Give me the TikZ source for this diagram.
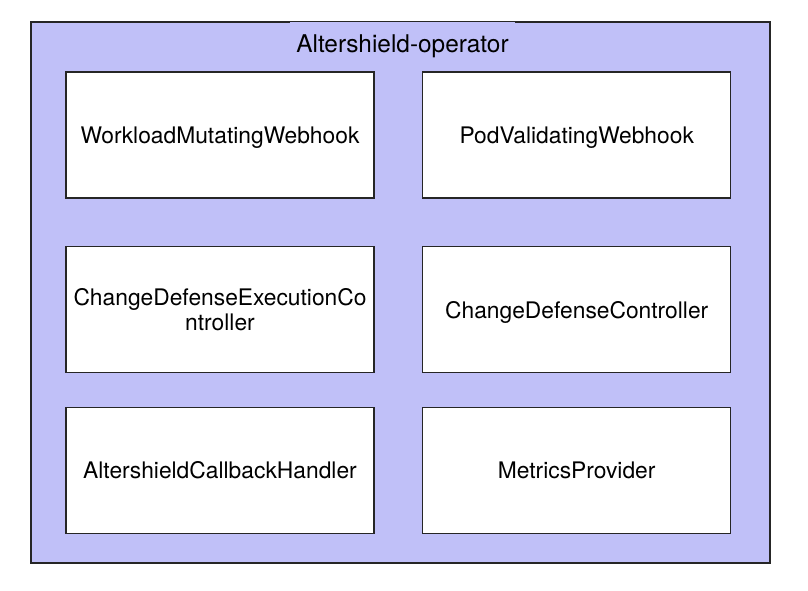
\documentclass[tikz,border=0pt]{standalone}
\usepackage{fontspec}
\setmainfont{TeX Gyre Heros}
\usepackage{tikz}
\usetikzlibrary{positioning}
\definecolor{lavender}{RGB}{192,192,248}
\tikzstyle{operatorbox} = [rectangle, minimum width=739pt, minimum height=541pt, draw=black!85, line width=1.2pt, fill=lavender]
\tikzstyle{titlebox} = [rectangle, minimum width=225pt, minimum height=45pt, fill=lavender, font=\fontsize{24.4}{28}\selectfont]
\tikzstyle{component} = [rectangle, minimum width=308pt, minimum height=126pt, text centered, align=center, draw=black!85, line width=1.2pt, fill=white, font=\fontsize{22.8}{24.5}\selectfont]
\tikzstyle{oneline} = [text depth=0pt]

\begin{document}
\begin{tikzpicture}[node distance=47.5pt]
\useasboundingbox (0,0) rectangle (808pt,-590pt);

% Operator

	\node (operator) [operatorbox] at (400.5pt,-292.5pt) {};

	\node (title) [titlebox, oneline] at (402.5pt,-44.1pt) {Altershield-operator};


% Webhooks

	\node (workloadWebhook) [component, oneline] at (220pt,-135pt) {WorkloadMutatingWebhook};

	\node (podWebhook) [component, oneline, right=of workloadWebhook] {PodValidatingWebhook};


% Controllers

	\node (executionController) [component, below=of workloadWebhook] {ChangeDefenseExecutionCo\\ntroller};

	\node (defenseController) [component, oneline, right=of executionController] {ChangeDefenseController};


% Callback and metrics

	\node (callbackHandler) [component, oneline, below=33.5pt of executionController] {AltershieldCallbackHandler};

	\node (metricsProvider) [component, oneline, right=of callbackHandler] {MetricsProvider};

\end{tikzpicture}
\end{document}
